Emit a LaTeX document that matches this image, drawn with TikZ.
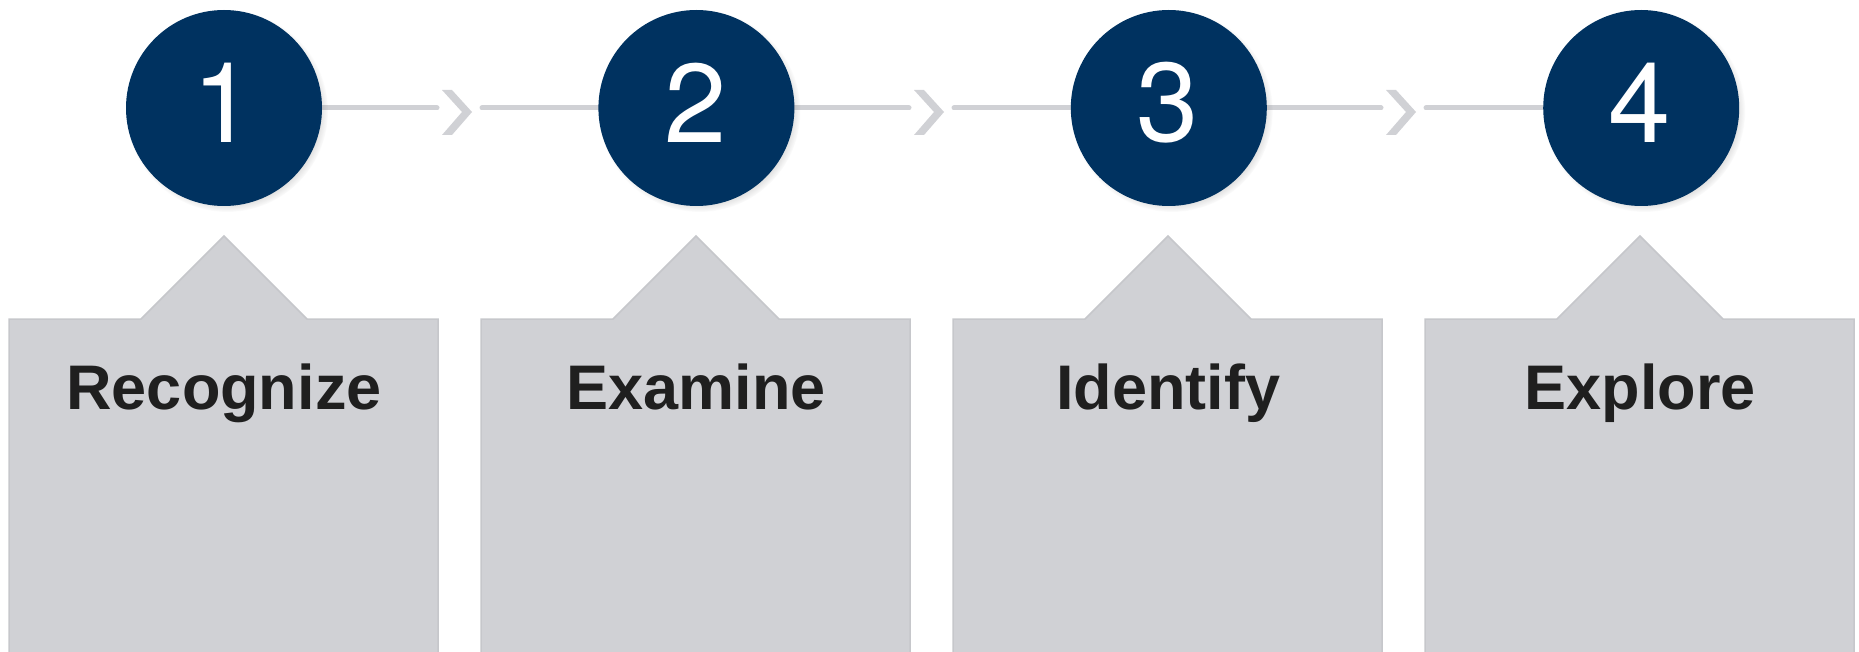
\documentclass[tikz,border=0pt]{standalone}
\usepackage{fontspec}
\setmainfont{Liberation Sans}
\newfontfamily\numfont{TeX Gyre Heros}
\usetikzlibrary{positioning,shadows}
\definecolor{navy}{RGB}{0,50,96}
\definecolor{boxgray}{RGB}{208,209,213}
\definecolor{edgegray}{RGB}{198,199,203}

\begin{document}
\begin{tikzpicture}[x=1pt,y=-1pt]
  \tikzstyle{stepcircle}=[circle, fill=navy, minimum size=196pt, inner sep=0pt,
    circular drop shadow={shadow xshift=3pt, shadow yshift=-3pt, shadow scale=1.03, opacity=0.45}]
  \tikzstyle{stepnum}=[text=white, font=\numfont\fontsize{112}{112}\selectfont, inner sep=0pt]
  \tikzstyle{stepbox}=[fill=boxgray, draw=edgegray, line width=1.5pt, line join=miter]
  \tikzstyle{steplabel}=[anchor=base, text=black!88, font=\bfseries\fontsize{63}{63}\selectfont]
  \tikzstyle{link}=[draw=boxgray, line width=5pt, line cap=round]
  \tikzstyle{chevron}=[fill=boxgray]
  \useasboundingbox (0,0) rectangle (1859,652);

  % boxes
  \draw[stepbox] (9,319) -- (141,319) -- (224,236) -- (307,319) -- (438,319) -- (438,664) -- (9,664) -- cycle;
  \draw[stepbox] (481,319) -- (613,319) -- (696,236) -- (779,319) -- (910,319) -- (910,664) -- (481,664) -- cycle;
  \draw[stepbox] (953,319) -- (1085,319) -- (1168,236) -- (1251,319) -- (1382,319) -- (1382,664) -- (953,664) -- cycle;
  \draw[stepbox] (1425,319) -- (1557,319) -- (1640,236) -- (1723,319) -- (1854,319) -- (1854,664) -- (1425,664) -- cycle;

  \node[steplabel] (l1) at (224,409) {Recognize};
  \node[steplabel] (l2) at (696,409) {Examine};
  \node[steplabel] (l3) at (1168,409) {Identify};
  \node[steplabel] (l4) at (1640,409) {Explore};

  % connectors
  \coordinate (a1) at (437,108); \coordinate (b1) at (482,108);
  \coordinate (a2) at (909,108); \coordinate (b2) at (954,108);
  \coordinate (a3) at (1381,108); \coordinate (b3) at (1426,108);

  \path[chevron] (442,90) -- (452,90) -- (472,112) -- (452,135) -- (442,135) -- (462,112) -- cycle;
  \path[chevron] (914,90) -- (924,90) -- (944,112) -- (924,135) -- (914,135) -- (934,112) -- cycle;
  \path[chevron] (1386,90) -- (1396,90) -- (1416,112) -- (1396,135) -- (1386,135) -- (1406,112) -- cycle;

  \draw[link] (224,108) -- (a1);
  \draw[link] (b1) -- (696,108);
  \draw[link] (696,108) -- (a2);
  \draw[link] (b2) -- (1168,108);
  \draw[link] (1168,108) -- (a3);
  \draw[link] (b3) -- (1640,108);

  % circles
  \node[stepcircle] (c1) at (224,108) {};
  \node[stepcircle, right=276pt of c1] (c2) {};
  \node[stepcircle, right=276pt of c2] (c3) {};
  \node[stepcircle, right=276pt of c3] (c4) {};

  \node[stepnum] (n1) at (224,103) {1};
  \node[stepnum] (n2) at (696,103) {2};
  \node[stepnum] (n3) at (1168,103) {3};
  \node[stepnum] (n4) at (1640,103) {4};
\end{tikzpicture}
\end{document}
